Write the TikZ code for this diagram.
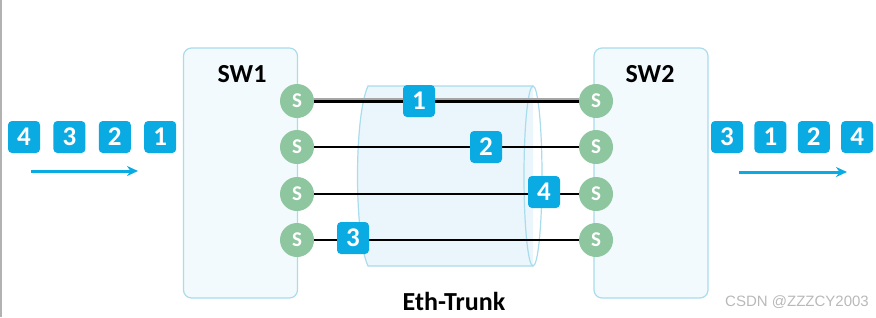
\documentclass[tikz,border=0pt]{standalone}
\usepackage{fontspec}
\setmainfont{Carlito}
\newfontfamily\markfont{Liberation Sans}
\usetikzlibrary{arrows.meta, positioning}

\definecolor{pktblue}{HTML}{0AAAE2}
\definecolor{portgreen}{HTML}{8DC69F}
\definecolor{boxfill}{HTML}{F2FAFD}
\definecolor{boxline}{HTML}{A9DCEC}
\definecolor{tubefill}{HTML}{EAF6FB}

\tikzset{
  switch/.style={draw=boxline, fill=boxfill, line width=1.2pt, rounded corners=8pt,
    minimum width=114pt, minimum height=250pt, inner sep=0pt},
  port/.style={circle, fill=portgreen, minimum size=34pt, inner sep=0pt, text=white,
    font=\bfseries\fontsize{21}{21}\selectfont},
  pkt/.style={fill=pktblue, rounded corners=4pt, minimum size=32pt, inner sep=0pt,
    text=white, font=\bfseries\fontsize{27}{27}\selectfont},
  title/.style={font=\bfseries\fontsize{26}{26}\selectfont},
  link/.style={line width=2.8pt, black},
  flow/.style={pktblue, line width=3pt, -{Stealth[length=11pt, width=10pt]}}
}

\begin{document}
\begin{tikzpicture}[x=1pt, y=-1pt]
    \useasboundingbox (0,0) rectangle (876,317);
    \draw[gray!60, line width=1.5pt] (1,0) -- (1,317);

    % switches
    \node[switch] (sw1) at (240.5,173) {};
    \node[switch] (sw2) at (651,173) {};
    \node[title] (sw1t) at (242,74) {SW1};
    \node[title] (sw2t) at (650,74) {SW2};

    % eth-trunk tube
    \path[fill=tubefill] (368,86) -- (533,86) -- (533,266) -- (368,266)
        .. controls (354,236) and (354,116) .. (368,86) -- cycle;
    \draw[boxline, line width=1.2pt] (533,86) -- (368,86)
        .. controls (354,116) and (354,236) .. (368,266) -- (533,266);
    \draw[boxline, line width=1.2pt] (533,176) ellipse [x radius=9, y radius=90];
    \node[title] (trunk) at (454,301) {Eth-Trunk};

    % ports
    \foreach \i/\y in {1/101, 2/147, 3/194, 4/240} {
        \node[port] (l\i) at (297,\y) {S};
        \node[port] (r\i) at (596,\y) {S};
    }

    % member links
    \draw[gray!70, line width=1.6pt] ([yshift=1.8pt]l1.east) -- ([yshift=1.8pt]r1.west);
    \draw[link] ([yshift=-0.4pt]l1.east) -- ([yshift=-0.4pt]r1.west);
    \draw[link] (l2) -- (r2);
    \draw[link] (l3) -- (r3);
    \draw[link] (l4) -- (r4);

    % frames on the links
    \node[pkt] (t1) at (419,101) {1};
    \node[pkt] (t2) at (486,147) {2};
    \node[pkt] (t4) at (544,192) {4};
    \node[pkt] (t3) at (353,238) {3};

    % incoming frames
    \node[pkt] (in4) at (24,137) {4};
    \node[pkt, right=13pt of in4] (in3) {3};
    \node[pkt, right=13pt of in3] (in2) {2};
    \node[pkt, right=13pt of in2] (in1) {1};
    \coordinate (ina) at (31,171);
    \coordinate (inb) at (138,171);
    \draw[flow] (ina) -- (inb);

    % outgoing frames
    \node[pkt] (out3) at (727,137) {3};
    \node[pkt, right=11pt of out3] (out1) {1};
    \node[pkt, right=11pt of out1] (out2) {2};
    \node[pkt, right=11pt of out2] (out4) {4};
    \coordinate (outa) at (739,172);
    \coordinate (outb) at (847,172);
    \draw[flow] (outa) -- (outb);

    \node[text=gray!55, font=\markfont\fontsize{15}{15}\selectfont] (mark) at (797,302) {CSDN @ZZZCY2003};
\end{tikzpicture}
\end{document}
